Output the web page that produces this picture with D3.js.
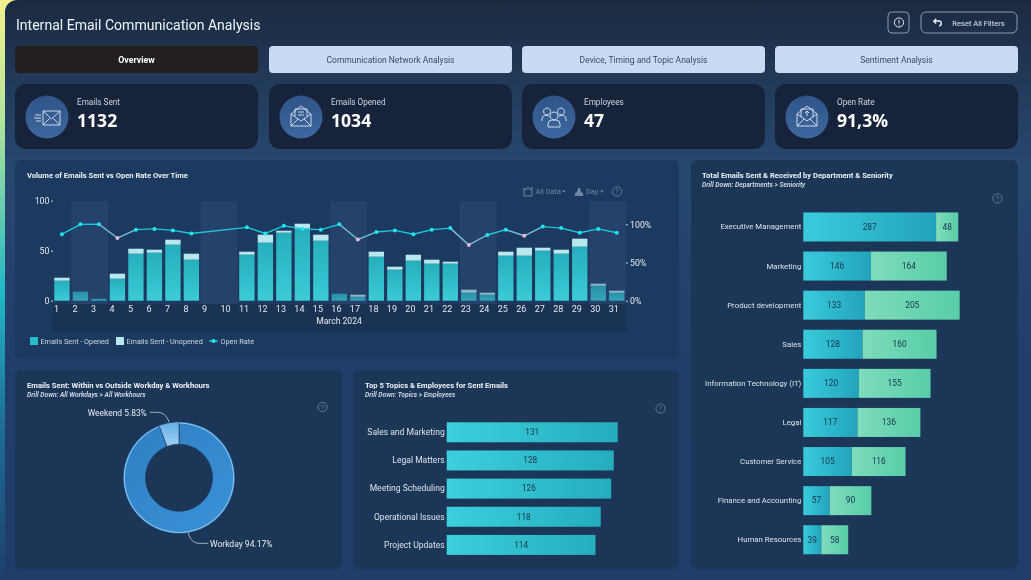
<!DOCTYPE html>
<html>
<head>
<meta charset="utf-8">
<script src="https://cdn.jsdelivr.net/npm/d3@7"></script>
<style>
html,body{margin:0;padding:0;background:#1e3d66;overflow:hidden}
svg{display:block;filter:blur(0.4px)}
text{font-family:Roboto,"Open Sans","Noto Sans",sans-serif}
.kv{font-family:"Open Sans","Noto Sans",sans-serif}
</style>
</head>
<body>
<svg id="c" width="1031" height="580"></svg>
<script>
// ---------- data ----------
const tabs = ["Overview","Communication Network Analysis","Device, Timing and Topic Analysis","Sentiment Analysis"];
const kpiLabels = ["Emails Sent","Emails Opened","Employees","Open Rate"];
const kpiValues = ["1132","1034","47","91,3%"];

const days = d3.range(1,32);
const opened   = [20,9,2,22,47,48,56,41,0,0,46,58,68,72,60,7,4,44,31,40,37,37,8,6,45,45,50,47,54,15,8];
const unopened = [3,0,0,5,5,3,5,6,0,0,3,8,2,5,6,0,2,5,3,6,4,2,3,2,4,8,3,4,8,2,2];
const openRate = [87,100,100,82,93,94,92,88,null,null,96,88,98,94,93,100,80,90,92,87,93,95,73,86,93,85,97,95,89,94,89];
const weekendStarts = [2,9,16,23,30];
const leftTicks = [0,50,100];
const rightTicks = [0,50,100];

const shiftLabels = ["Workday","Weekend"];
const shiftValues = [94.17,5.83];

const topics = ["Sales and Marketing","Legal Matters","Meeting Scheduling","Operational Issues","Project Updates"];
const topicValues = [131,128,126,118,114];

const departments = ["Executive Management","Marketing","Product development","Sales","Information Technology (IT)","Legal","Customer Service","Finance and Accounting","Human Resources"];
const deptFirst  = [287,146,133,128,120,117,105,57,39];
const deptSecond = [48,164,205,160,155,136,116,90,58];

// ---------- set-up ----------
const svg = d3.select("#c");
const defs = svg.append("defs");
function grad(id,x2,y2,stops){
  const g = defs.append("linearGradient").attr("id",id).attr("x1",0).attr("y1",0).attr("x2",x2).attr("y2",y2);
  stops.forEach(s=>g.append("stop").attr("offset",s[0]).attr("stop-color",s[1]));
  return g;
}
grad("edge",0,1,[[0,"#f2ef8e"],[0.2,"#b5e69a"],[0.5,"#22b8c6"],[0.72,"#1f6f9a"],[1,"#1d3f6c"]]);
grad("page",0,1,[[0,"#1b2a40"],[0.14,"#223a5a"],[0.28,"#27486f"],[0.6,"#1f3e6a"],[1,"#1f3d6b"]]);
grad("icon",0,1,[[0,"#2f5488"],[1,"#3d689f"]]);
grad("barV",0,1,[[0,"#26aebd"],[1,"#3ccbd8"]]);
grad("topicH",1,0,[[0,"#3ccfdc"],[1,"#25adbd"]]);
grad("deptA",1,0,[[0,"#3acbdb"],[1,"#22a4bc"]]);
grad("deptB",1,0,[[0,"#7edcbc"],[1,"#58cda8"]]);
grad("donutA",1,1,[[0,"#2f7fc4"],[1,"#3a92d6"]]);
grad("donutB",0,1,[[0,"#63aee4"],[1,"#9fd0f2"]]);

const card = (x,y,w,h,fill,r=7)=>svg.append("rect").attr("x",x).attr("y",y).attr("width",w).attr("height",h).attr("rx",r).attr("fill",fill);
const label = (x,y,t,size,fill,anchor="start",weight=400,style="normal")=>svg.append("text").attr("x",x).attr("y",y).attr("font-size",size).attr("fill",fill).attr("text-anchor",anchor).attr("font-weight",weight).attr("font-style",style).text(t);
const helpIcon = (x,y,r=5)=>{
  svg.append("circle").attr("cx",x).attr("cy",y).attr("r",r).attr("fill","none").attr("stroke","#5f7a99").attr("stroke-width",1);
  label(x,y+2.5,"?",7,"#5f7a99","middle");
};

// ---------- page ----------
svg.append("rect").attr("width",1031).attr("height",580).attr("fill","#1f3f6c");
svg.append("rect").attr("width",30).attr("height",580).attr("fill","url(#edge)");
svg.append("rect").attr("x",5).attr("y",0).attr("width",1040).attr("height",600).attr("rx",12).attr("fill","url(#page)");

label(16,30,"Internal Email Communication Analysis",14.05,"#f1f4f8");

// top-right buttons
svg.append("rect").attr("x",888).attr("y",12).attr("width",21).attr("height",21).attr("rx",4).attr("fill","none").attr("stroke","#8a9bb0").attr("stroke-width",1);
svg.append("circle").attr("cx",899).attr("cy",22.5).attr("r",4.6).attr("fill","none").attr("stroke","#e6ebf2").attr("stroke-width",1);
svg.append("line").attr("x1",899).attr("x2",899).attr("y1",20).attr("y2",23.6).attr("stroke","#e6ebf2").attr("stroke-width",1);
svg.append("circle").attr("cx",899).attr("cy",25).attr("r",.55).attr("fill","#e6ebf2");
svg.append("rect").attr("x",921).attr("y",12).attr("width",96).attr("height",21).attr("rx",5).attr("fill","none").attr("stroke","#8a9bb0").attr("stroke-width",1);
svg.append("path").attr("d","M934 21h5c3 0 3 4.500 .2 5M936.200 19l-2.400 2.200 2.400 2.200").attr("fill","none").attr("stroke","#eef2f6").attr("stroke-width",1.4);
label(978.5,25.6,"Reset All Filters",7.6,"#dfe5ec","middle");

// tabs
const tabX = [15,269,522,775];
tabs.forEach((t,i)=>{
  card(tabX[i],46,243,27,i===0?"#231f1e":"#c9daf3",4);
  label(tabX[i]+121.5,63.3,t,i===0?8.8:8.5,i===0?"#ffffff":"#3a4b60","middle",i===0?700:400);
});

// KPI cards
const kpiIcons = [
  "M-4 -6h17v14h-17zM-4 -6l8.500 8 8.500-8M-4 8l6.500-6.500M13 8l-6.500-6.500M-12 -2h6M-13 1h7M-11 4h5",
  "M-10 -3l10-8 10 8v12h-20zM-10 -3l10 7 10-7M-10 9l7-7M10 9l-7-7M-6 -1v-7h12v7M-3 -5h6M-3 -2h6",
  "M-7 -9a3.500 3.500 0 1 0 .01 0M7 -9a3.500 3.500 0 1 0 .01 0M-12 4v-2a4 4 0 0 1 7 -2.500M12 4v-2a4 4 0 0 0 -7 -2.500M0 -5a4 4 0 1 0 .01 0M-6 10v-3a4 4 0 0 1 4 -4h4a4 4 0 0 1 4 4v3z",
  "M-10 -3l10-8 10 8v12h-20zM-10 -3l10 7 10-7M-10 9l7-7M10 9l-7-7M-6 0v-8h12v8M0 -1v-5M-2 -4l2-2 2 2"
];
tabX.forEach((x,i)=>{
  card(x,84,243,65,"#17233a",11);
  svg.append("circle").attr("cx",x+32).attr("cy",117).attr("r",21.5).attr("fill","url(#icon)");
  svg.append("path").attr("transform",`translate(${x+32},117)`).attr("d",kpiIcons[i]).attr("fill","none").attr("stroke","#dbe6f2").attr("stroke-width",.9);
  label(x+62,104.8,kpiLabels[i],8.2,"#ccd5df");
  label(x+62,126.5,kpiValues[i],17.6,"#ffffff","start",700).attr("class","kv");
});

// panels
const panelFill = "#1b3657";
card(15,160,664,199,"#1c3a5f",6);
card(15,370,327,199,panelFill,6);
card(353,370,326,199,panelFill,6);
card(691,160,327,409,panelFill,6);

// ---------- combo chart ----------
label(27,178,"Volume of Emails Sent vs Open Rate Over Time",7.6,"#eef2f6","start",700);
const x = d3.scaleBand().domain(days).range([52.7,626]).paddingInner(0.17).paddingOuter(0.085);
const y = d3.scaleLinear().domain([0,100]).range([300.7,200.7]);
const yR = d3.scaleLinear().domain([0,100]).range([300.7,224.3]);
const stepW = x.step();

svg.append("rect").attr("x",52.7).attr("y",304).attr("width",573.3).attr("height",28).attr("fill","#1a3354");
// weekend bands, behind the bars
svg.append("g").selectAll("rect").data(weekendStarts).join("rect")
  .attr("x",d=>x(d)-x.step()*x.paddingInner()/2)
  .attr("width",stepW*2)
  .attr("y",201).attr("height",103)
  .attr("fill","#24426a");

const isWeekend = d=>weekendStarts.some(s=>d===s||d===s+1);
const series = [
  {vals:opened,  base:()=>0,       fill:"url(#barV)"},
  {vals:unopened,base:i=>opened[i],fill:"#b6e8ee"}
];
series.forEach(s=>{
  svg.append("g").selectAll("rect").data(days).join("rect")
    .attr("x",d=>x(d)).attr("width",x.bandwidth())
    .attr("y",(d,i)=>y(s.base(i)+s.vals[i]))
    .attr("height",(d,i)=>y(0)-y(s.vals[i]))
    .attr("fill",s.fill)
    .attr("opacity",d=>isWeekend(d)?0.72:1);
});

const xAxis = d3.axisBottom(x).tickSize(0).tickPadding(2);
const gx = svg.append("g").attr("transform","translate(0,304)").call(xAxis);
gx.select(".domain").remove();
gx.selectAll("text").attr("font-size",9).attr("fill","#e3e9f0").attr("text-anchor","start").attr("x",-8);
label(339,324.3,"March 2024",8.6,"#e3e9f0","middle");

const gl = svg.append("g").attr("transform","translate(53,0)").call(d3.axisLeft(y).tickValues(leftTicks).tickSize(2).tickPadding(1.5));
gl.select(".domain").remove();
gl.selectAll("line").attr("stroke","#c8d2de");
gl.selectAll("text").attr("font-size",8.8).attr("fill","#e3e9f0");
const gr = svg.append("g").attr("transform","translate(626,0)").call(d3.axisRight(yR).tickValues(rightTicks).tickFormat(d=>d+"%").tickSize(2).tickPadding(2));
gr.select(".domain").remove();
gr.selectAll("line").attr("stroke","#c8d2de");
gr.selectAll("text").attr("font-size",8.8).attr("fill","#e3e9f0");

const cx = d=>x(d)+x.bandwidth()/2;
const rateDays = days.filter((d,i)=>openRate[i]!==null);
const rateOf = d=>openRate[d-1];
const isLow = d=>rateOf(d)<86;
const segs = d3.pairs(rateDays);
svg.append("g").selectAll("line").data(segs).join("line")
  .attr("x1",d=>cx(d[0])).attr("y1",d=>yR(rateOf(d[0])))
  .attr("x2",d=>cx(d[1])).attr("y2",d=>yR(rateOf(d[1])))
  .attr("stroke",d=>(isLow(d[0])||isLow(d[1]))?"#74c3d6":"#1cc9d8").attr("stroke-width",1.4);
svg.append("g").selectAll("circle").data(rateDays).join("circle")
  .attr("cx",cx).attr("cy",d=>yR(rateOf(d))).attr("r",2)
  .attr("fill",d=>isLow(d)?"#e3b6dc":"#22e4ee");

// legend
const legendY = 341;
[["Emails Sent - Opened",30,"#2bbccb"],["Emails Sent - Unopened",116,"#b6e8ee"]].forEach(l=>{
  svg.append("rect").attr("x",l[1]).attr("y",legendY-4).attr("width",8).attr("height",8).attr("fill",l[2]);
  label(l[1]+10.5,legendY+2.8,l[0],7.25,"#cfd8e2");
});
svg.append("line").attr("x1",209).attr("x2",218).attr("y1",341).attr("y2",341).attr("stroke","#22c8d8").attr("stroke-width",1.4);
svg.append("circle").attr("cx",213.5).attr("cy",341).attr("r",2).attr("fill","#22e4ee");
label(220.5,343.8,"Open Rate",7.3,"#cfd8e2");

// chart options row
svg.append("path").attr("d","M524 196v-8l2 2 2-3 2 3 2-3 0 0 0 9z").attr("fill","none").attr("stroke","#6f87a3");
label(535.5,194.3,"All Data",7.4,"#6f87a3");
svg.append("path").attr("d","M575 196v-3l2-1 1-4 2 0 1 4 2 1v3z").attr("fill","#6f87a3");
label(586,194.3,"Day",7.4,"#6f87a3");
svg.append("path").attr("d","M562 190.600l2 2 2-2zM600 190.600l2 2 2-2").attr("fill","#6f87a3");
helpIcon(617,191.5,4.6);

// ---------- donut ----------
label(27,388,"Emails Sent: Within vs Outside Workday & Workhours",7.65,"#eef2f6","start",700);
label(27,397,"Drill Down: All Workdays > All Workhours",6.7,"#d5dde6","start",600,"italic");
helpIcon(322.5,407,4.6);
const pie = d3.pie().sort(null).value(d=>d)(shiftValues);
const arc = d3.arc().innerRadius(33.5).outerRadius(56);
const dg = svg.append("g").attr("transform","translate(179,477.7)");
dg.selectAll("path.s").data(pie).join("path").attr("class","s").attr("d",arc)
  .attr("fill",(d,i)=>i===0?"url(#donutA)":"url(#donutB)").attr("stroke","#183355").attr("stroke-width",.6);
const rim = d3.arc().innerRadius(54.2).outerRadius(55.2);
dg.append("path").datum(pie[0]).attr("d",rim).attr("fill","#8fc5ee");
const leader = p=>svg.append("path").attr("d",p).attr("fill","none").attr("stroke","#c6d0db").attr("stroke-width",.8);
leader("M150 412.300h7c6 0 10 3.500 12 9.700");
leader("M188.300 532.700c1 6 5 10.600 11 10.600h9");
label(87.7,415.5,`${shiftLabels[1]} ${shiftValues[1]}%`,8.45,"#e6ebf1");
label(210,546.7,`${shiftLabels[0]} ${shiftValues[0]}%`,8.5,"#e6ebf1");

// ---------- topics ----------
label(365,388,"Top 5 Topics & Employees for Sent Emails",7.6,"#eef2f6","start",700);
label(365,397,"Drill Down: Topics > Employees",6.7,"#d5dde6","start",600,"italic");
helpIcon(660.5,408.5,4.6);
const xT = d3.scaleLinear().domain([0,131]).range([446.7,617.7]);
const yT = d3.scaleBand().domain(topics).range([418.2,559]).paddingInner(0.29).paddingOuter(0.145);
svg.append("g").selectAll("rect").data(topics).join("rect")
  .attr("x",xT(0)).attr("y",d=>yT(d)).attr("height",yT.bandwidth())
  .attr("width",(d,i)=>xT(topicValues[i])-xT(0)).attr("fill","url(#topicH)");
svg.append("g").selectAll("text").data(topics).join("text")
  .attr("x",(d,i)=>(xT(0)+xT(topicValues[i]))/2).attr("y",d=>yT(d)+yT.bandwidth()/2+2.8)
  .attr("text-anchor","middle").attr("font-size",8.2).attr("fill","#17354f")
  .text((d,i)=>topicValues[i]);
const gT = svg.append("g").attr("transform","translate(446.7,0)").call(d3.axisLeft(yT).tickSize(0).tickPadding(2));
gT.select(".domain").remove();
gT.selectAll("text").attr("font-size",8.55).attr("fill","#dbe3ec");

// ---------- departments ----------
label(702,178,"Total Emails Sent & Received by Department & Seniority",7.6,"#eef2f6","start",700);
label(702,186.5,"Drill Down: Departments > Seniority",6.7,"#d5dde6","start",600,"italic");
helpIcon(997.5,198.5,4.6);
const xD = d3.scaleLinear().domain([0,335]).range([803.3,958.3]);
const yD = d3.scaleBand().domain(departments).range([207.4,559.3]).paddingInner(0.258).paddingOuter(0.129);
const deptRows = [
  {vals:deptFirst, base:()=>0,           fill:"url(#deptA)"},
  {vals:deptSecond,base:i=>deptFirst[i], fill:"url(#deptB)"}
];
deptRows.forEach(s=>{
  svg.append("g").selectAll("rect").data(departments).join("rect")
    .attr("x",(d,i)=>xD(s.base(i))).attr("y",d=>yD(d)).attr("height",yD.bandwidth())
    .attr("width",(d,i)=>xD(s.vals[i])-xD(0)).attr("fill",s.fill);
  svg.append("g").selectAll("text").data(departments).join("text")
    .attr("x",(d,i)=>xD(s.base(i)+s.vals[i]/2)).attr("y",d=>yD(d)+yD.bandwidth()/2+2.8)
    .attr("text-anchor","middle").attr("font-size",8.4).attr("fill","#17354f")
    .text((d,i)=>s.vals[i]);
});
const gD = svg.append("g").attr("transform","translate(803.3,0)").call(d3.axisLeft(yD).tickSize(0).tickPadding(2));
gD.select(".domain").remove();
gD.selectAll("text").attr("font-size",7.8).attr("fill","#dbe3ec");
</script>
</body>
</html>
